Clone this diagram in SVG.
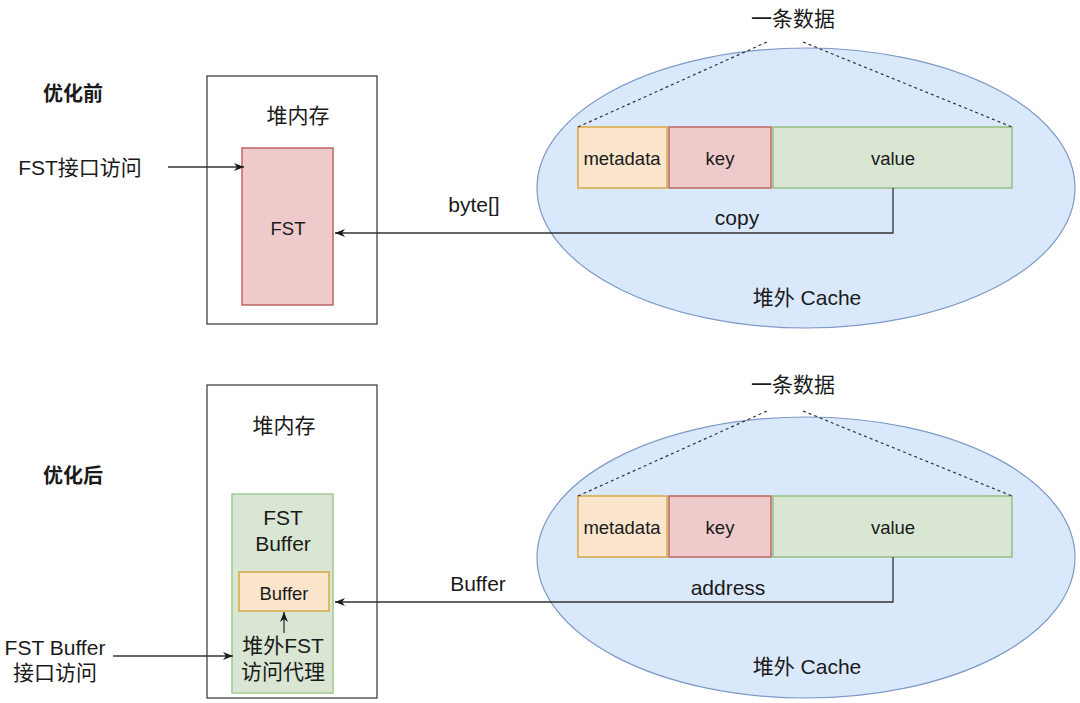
<svg xmlns="http://www.w3.org/2000/svg" width="1080" height="703" viewBox="0 0 1080 703">
<style>
text{font-family:"Liberation Sans","Noto Sans CJK SC",Arial,sans-serif;fill:#1a1a1a;text-anchor:middle;dominant-baseline:central}
.t21{font-size:21px}
.t19{font-size:18.5px}
.title{font-size:20px;font-weight:bold}
.heap{fill:#ffffff;stroke:#333333;stroke-width:1.2}
.cache{fill:#dae8fc;stroke:#7d99c7;stroke-width:1.2}
.meta{fill:#fbe5cd;stroke:#d6a845;stroke-width:1.5}
.key{fill:#eecbca;stroke:#bd6663;stroke-width:1.5}
.val{fill:#d9e6d3;stroke:#97bf81;stroke-width:1.5}
.grn{fill:#d9e6d3;stroke:#a3c990;stroke-width:1.5}
.dot{fill:none;stroke:#333333;stroke-width:1.2;stroke-dasharray:3,3}
.edge{fill:none;stroke:#333333;stroke-width:1.3}
</style>
<defs>
<marker id="arr" viewBox="0 0 10 10" refX="10" refY="5" markerWidth="10" markerHeight="10" markerUnits="userSpaceOnUse" orient="auto">
<path d="M0,1 L10,5 L0,9 L3,5 z" fill="#1a1a1a"/>
</marker>
</defs>
<rect width="1080" height="703" fill="#ffffff"/>

<!-- Top section: before optimization -->
<g id="label-before"><text class="title" x="73" y="94">优化前</text></g>

<g id="heap-top">
<rect class="heap" x="207" y="76" width="170" height="248"/>
<text class="t21" x="298" y="115">堆内存</text>
</g>
<g id="fst-top">
<rect class="key" x="242" y="148" width="91" height="157"/>
<text class="t19" x="288" y="228">FST</text>
</g>
<g id="access-top"><text class="t21" x="80" y="167">FST接口访问</text></g>

<g id="cache-top">
<ellipse class="cache" cx="806" cy="188" rx="269" ry="140"/>
<text class="t21" x="807" y="297">堆外 Cache</text>
</g>
<g id="record-label-top"><text class="t21" x="793" y="18">一条数据</text></g>
<g id="metadata-top">
<rect class="meta" x="578" y="127" width="89" height="61"/>
<text class="t19" x="622" y="158">metadata</text>
</g>
<g id="key-top">
<rect class="key" x="669" y="127" width="102" height="61"/>
<text class="t19" x="720" y="158">key</text>
</g>
<g id="value-top">
<rect class="val" x="773" y="127" width="239" height="61"/>
<text class="t19" x="893" y="158">value</text>
</g>

<!-- Bottom section: after optimization -->
<g id="label-after"><text class="title" x="73" y="476">优化后</text></g>

<g id="heap-bottom">
<rect class="heap" x="207" y="385" width="170" height="313"/>
<text class="t21" x="284" y="425">堆内存</text>
</g>
<g id="fstbuffer-bottom">
<rect class="grn" x="232" y="494" width="101" height="199"/>
<text class="t21" x="283" y="517">FST</text>
<text class="t21" x="283" y="543">Buffer</text>
<text class="t21" x="283" y="645">堆外FST</text>
<text class="t21" x="283" y="671">访问代理</text>
</g>
<g id="buffer-bottom">
<rect class="meta" x="239" y="572" width="90" height="39"/>
<text class="t19" x="284" y="593">Buffer</text>
</g>
<g id="access-bottom">
<text class="t21" x="55" y="647">FST Buffer</text>
<text class="t21" x="55" y="672">接口访问</text>
</g>

<g id="cache-bottom">
<ellipse class="cache" cx="806" cy="557.5" rx="269" ry="140.5"/>
<text class="t21" x="807" y="666">堆外 Cache</text>
</g>
<g id="record-label-bottom"><text class="t21" x="793" y="384">一条数据</text></g>
<g id="metadata-bottom">
<rect class="meta" x="578" y="496" width="89" height="61"/>
<text class="t19" x="622" y="527">metadata</text>
</g>
<g id="key-bottom">
<rect class="key" x="669" y="496" width="102" height="61"/>
<text class="t19" x="720" y="527">key</text>
</g>
<g id="value-bottom">
<rect class="val" x="773" y="496" width="239" height="61"/>
<text class="t19" x="893" y="527">value</text>
</g>

<!-- Connectors -->
<g id="connectors">
<line class="dot" x1="578" y1="127" x2="767" y2="42"/>
<line class="dot" x1="803" y1="42" x2="1012" y2="127"/>
<line class="dot" x1="578" y1="496" x2="767" y2="411"/>
<line class="dot" x1="803" y1="411" x2="1012" y2="496"/>

<line class="edge" x1="168" y1="167" x2="244" y2="167" marker-end="url(#arr)"/>
<polyline class="edge" points="893,188 893,233 335,233" marker-end="url(#arr)"/>
<text class="t21" x="474" y="204">byte[]</text>
<text class="t21" x="737" y="217">copy</text>

<line class="edge" x1="113" y1="656" x2="233" y2="656" marker-end="url(#arr)"/>
<line class="edge" x1="284" y1="633" x2="284" y2="612" marker-end="url(#arr)"/>
<polyline class="edge" points="893,557 893,602 335,602" marker-end="url(#arr)"/>
<text class="t21" x="478" y="583">Buffer</text>
<text class="t21" x="728" y="587">address</text>
</g>
</svg>
